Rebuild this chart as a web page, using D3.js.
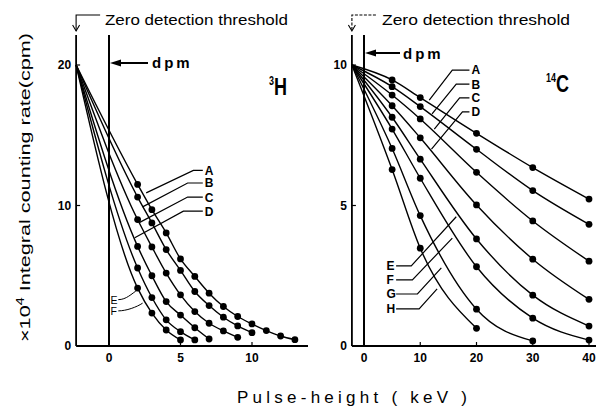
<!DOCTYPE html>
<html lang="en">
<head>
<meta charset="UTF-8">
<title>Integral counting rate vs pulse height</title>
<script src="https://d3js.org/d3.v7.min.js"></script>
<style>
  body { margin: 0; background: #fff; }
  text { font-family: "Liberation Sans", Arial, sans-serif; fill: #000; }
</style>
</head>
<body>
<svg width="596" height="407"></svg>
<script>
// ---- 3H panel: pulse height (keV) vs integral rate (x10^4 cpm)
const h3Threshold = -2.3;
const h3Top = 20;
const h3KeV = [2, 3, 4, 5, 6, 7, 8, 9, 10, 11, 12, 13];
const h3A = [11.5, 9.7, 8.05, 6.2, 4.95, 3.76, 2.81, 2.1, 1.57, 1.1, 0.71, 0.45];
const h3B = [10.6, 8.76, 6.86, 5.38, 3.88, 2.88, 2.05, 1.43, 0.95];
const h3C = [9.0, 7.05, 5.19, 3.64, 2.45, 1.62, 1.07, 0.62];
const h3D = [7.09, 5.0, 3.16, 2.2, 1.3, 0.5];
const h3E = [5.55, 3.45, 1.86, 1.02, 0.43];
const h3F = [4.12, 2.34, 1.14, 0.43];
const h3XTicks = [0, 5, 10];
const h3YTicks = [0, 10, 20];

// ---- 14C panel
const c14Threshold = -2.15;
const c14Top = 10;
const c14KeV = [5, 10, 20, 30, 40];
const c14A = [9.47, 8.84, 7.57, 6.35, 5.23];
const c14B = [9.23, 8.52, 7.0, 5.53, 4.33];
const c14C = [8.93, 8.08, 6.18, 4.45, 3.02];
const c14D = [8.55, 7.41, 5.02, 3.09, 1.66];
const c14E = [8.14, 6.65, 3.81, 1.81, 0.71];
const c14F = [7.72, 5.97, 2.82, 0.99, 0.21];
const c14G = [7.03, 4.64, 1.31, 0.18];
const c14H = [6.28, 3.48, 0.63];
const c14XTicks = [0, 10, 20, 30, 40];
const c14YTicks = [0, 5, 10];

// curve labels: [name, text x, text y, elbow x, tip x, tip y] in data units
const h3Labels = [
  ["A", 6.7, 12.5, 5.9, 2.6, 10.9],
  ["B", 6.7, 11.6, 5.5, 2.35, 9.9],
  ["C", 6.7, 10.6, 5.5, 2.15, 8.8],
  ["D", 6.7, 9.6, 5.2, 1.8, 7.7]
];
const h3LabelsLow = [
  ["E", 0.1, 3.3, 0.9, 2.0, 4.0],
  ["F", 0.1, 2.5, 0.9, 2.35, 3.05]
];
const c14LabelsTop = [
  ["A", 19.1, 9.82, 15.7, 11.6, 8.75],
  ["B", 19.1, 9.32, 16.4, 12.1, 8.26],
  ["C", 19.1, 8.83, 17.0, 12.5, 7.72],
  ["D", 19.1, 8.33, 17.5, 12.0, 7.01]
];
const c14LabelsLow = [
  ["E", 4.0, 2.85, 8.4, 16.4, 4.6],
  ["F", 4.0, 2.35, 8.6, 15.7, 3.84],
  ["G", 4.0, 1.85, 9.5, 13.75, 2.78],
  ["H", 4.0, 1.32, 9.8, 13.0, 2.03]
];

const svg = d3.select("svg");

const xL = d3.scaleLinear().domain([0, 10]).range([109, 252]);
const yL = d3.scaleLinear().domain([0, 20]).range([346, 65]);
const xR = d3.scaleLinear().domain([0, 40]).range([364, 589]);
const yR = d3.scaleLinear().domain([0, 10]).range([346, 65]);

function panel(x, y, thr, top, keV, seriesList, xTicks, yTicks, xEnd, r) {
  const g = svg.append("g");
  const x0 = x(thr);
  // frame lines
  g.append("line").attr("x1", x0).attr("x2", x0).attr("y1", 35).attr("y2", y(0))
    .attr("stroke", "#000").attr("stroke-width", 1.8);
  g.append("line").attr("x1", x(0)).attr("x2", x(0)).attr("y1", 35).attr("y2", y(0))
    .attr("stroke", "#000").attr("stroke-width", 2);
  g.append("line").attr("x1", x0).attr("x2", xEnd).attr("y1", y(0)).attr("y2", y(0))
    .attr("stroke", "#000").attr("stroke-width", 2.2);
  // x ticks
  g.selectAll(".xt").data(xTicks).enter().append("line")
    .attr("x1", d => x(d)).attr("x2", d => x(d)).attr("y1", y(0)).attr("y2", y(0) - 4)
    .attr("stroke", "#000").attr("stroke-width", 1.2);
  g.selectAll(".xl").data(xTicks).enter().append("text")
    .attr("x", d => x(d)).attr("y", y(0) + 16).attr("text-anchor", "middle")
    .attr("font-size", 12).attr("font-weight", "bold").text(d => d);
  // y ticks
  g.selectAll(".yt").data(yTicks.slice(1)).enter().append("line")
    .attr("x1", x0).attr("x2", x0 + 4).attr("y1", d => y(d)).attr("y2", d => y(d))
    .attr("stroke", "#000").attr("stroke-width", 1.2);
  g.selectAll(".yl").data(yTicks).enter().append("text")
    .attr("x", x0 - 5).attr("y", d => y(d) + 4).attr("text-anchor", "end")
    .attr("font-size", 12).attr("font-weight", "bold").text(d => d);

  const line = d3.line().x(d => x(d[0])).y(d => y(d[1])).curve(d3.curveMonotoneX);
  seriesList.forEach(vals => {
    const pts = vals.map((v, i) => [keV[i], v]);
    g.append("path").attr("d", line([[thr, top]].concat(pts)))
      .attr("fill", "none").attr("stroke", "#000").attr("stroke-width", 1.4);
    g.selectAll(null).data(pts).enter().append("circle")
      .attr("cx", d => x(d[0])).attr("cy", d => y(d[1])).attr("r", r).attr("fill", "#000");
  });
  return g;
}

const gL = panel(xL, yL, h3Threshold, h3Top, h3KeV, [h3A, h3B, h3C, h3D, h3E, h3F],
  h3XTicks, h3YTicks, 308, 3.4);
const gR = panel(xR, yR, c14Threshold, c14Top, c14KeV,
  [c14A, c14B, c14C, c14D, c14E, c14F, c14G, c14H], c14XTicks, c14YTicks, 596, 3.4);

// mode: "right" = text right of elbow, "left" = text left of elbow, "curl" = curved leader
function labels(g, x, y, list, mode, size) {
  list.forEach(([name, tx, ty, ex, px, py]) => {
    const sy = y(ty);
    if (mode === "curl") {
      const sx = x(tx) + size * 0.75, qx = x(px), qy = y(py);
      g.append("path")
        .attr("d", `M${sx},${sy} C${sx + 8},${sy} ${qx - 6},${qy + 4} ${qx},${qy}`)
        .attr("fill", "none").attr("stroke", "#000").attr("stroke-width", 1);
    } else {
      const start = mode === "right" ? x(tx) - 2 : x(tx) + size * 0.8;
      g.append("path")
        .attr("d", `M${start},${sy} L${x(ex)},${sy} L${x(px)},${y(py)}`)
        .attr("fill", "none").attr("stroke", "#000").attr("stroke-width", 1.2);
    }
    g.append("text").attr("x", x(tx)).attr("y", sy + size * 0.37)
      .attr("font-size", size).attr("font-weight", mode === "curl" ? "normal" : "bold").text(name);
  });
}
labels(gL, xL, yL, h3Labels, "right", 12);
labels(gL, xL, yL, h3LabelsLow, "curl", 10.5);
labels(gR, xR, yR, c14LabelsTop, "right", 12);
labels(gR, xR, yR, c14LabelsLow, "left", 12);

// zero detection threshold brackets
function threshold(x0, textX, len, dashed) {
  svg.append("path").attr("d", `M${x0 + 24},15 H${x0} V31`)
    .attr("fill", "none").attr("stroke", "#000").attr("stroke-width", 1.1)
    .attr("stroke-dasharray", dashed ? "3,1.5" : null);
  svg.append("path").attr("d", `M${x0 - 3.5},25 L${x0},31 L${x0 + 3.5},25`)
    .attr("fill", "none").attr("stroke", "#000").attr("stroke-width", 1.1);
  svg.append("text").attr("x", textX).attr("y", 25).attr("font-size", 14.5)
    .attr("textLength", len).attr("lengthAdjust", "spacingAndGlyphs")
    .text("Zero detection threshold");
}
threshold(xL(h3Threshold), 105, 183, false);
threshold(xR(c14Threshold), 382, 188, true);

// dpm arrows
function dpm(x0, ay, tx, ty, len) {
  svg.append("line").attr("x1", x0 + 8).attr("x2", x0 + len).attr("y1", ay).attr("y2", ay)
    .attr("stroke", "#000").attr("stroke-width", 2);
  svg.append("path").attr("d", `M${x0 + 1},${ay} L${x0 + 12},${ay - 3.5} L${x0 + 12},${ay + 3.5} Z`)
    .attr("fill", "#000");
  svg.append("text").attr("x", tx).attr("y", ty).attr("font-size", 15)
    .attr("font-weight", "bold").attr("letter-spacing", 3).text("dpm");
}
dpm(xL(0), 63, 152, 68, 39);
dpm(xR(0), 53, 403, 59, 36);

// isotope labels
function isotope(x, y, sup, main) {
  const t = svg.append("text").attr("font-weight", "bold")
    .attr("transform", `translate(${x},${y}) scale(0.75,1)`);
  t.append("tspan").attr("font-size", 12).attr("dy", -10).text(sup);
  t.append("tspan").attr("font-size", 24).attr("dy", 10).text(main);
}
isotope(269, 95, "3", "H");
isotope(546, 92, "14", "C");

// axis titles
const yt = svg.append("text").attr("transform", "translate(30,342) rotate(-90)")
  .attr("font-size", 15).attr("textLength", 309).attr("lengthAdjust", "spacingAndGlyphs");
yt.append("tspan").text("×10");
yt.append("tspan").attr("font-size", 10).attr("dy", -6).text("4");
yt.append("tspan").attr("dy", 6).text(" Integral counting rate(cpm)");

svg.append("text").attr("x", 237).attr("y", 403).attr("font-size", 17)
  .attr("textLength", 230).attr("lengthAdjust", "spacing")
  .text("Pulse-height ( keV )");
</script>
</body>
</html>
